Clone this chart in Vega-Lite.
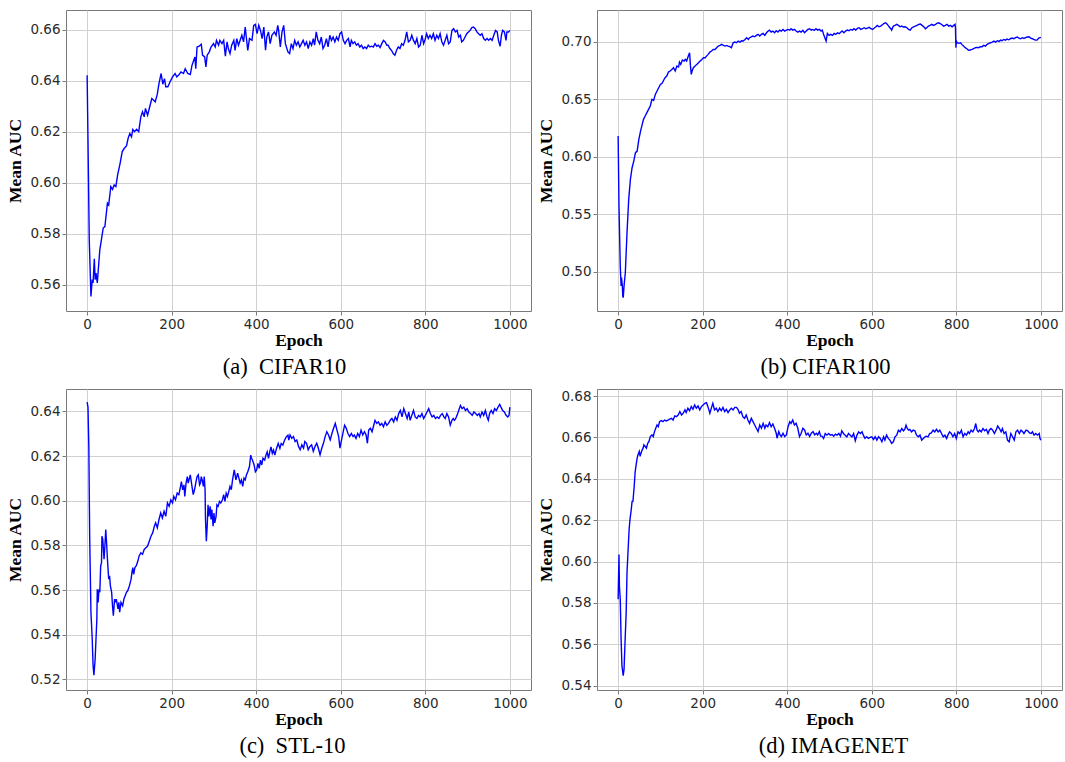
{
  "$schema": "https://vega.github.io/schema/vega-lite/v6.json",
  "background": "white",
  "padding": {"left": 6, "top": 9, "right": 0, "bottom": 0},
  "config": {
    "font": "DejaVu Sans",
    "view": {"stroke": "#7a7a7a", "strokeWidth": 1},
    "axis": {"domain": false, "grid": true, "gridColor": "#d0d0d0", "gridWidth": 1, "tickColor": "#7a7a7a", "tickSize": 4, "labelFont": "DejaVu Sans", "labelFontSize": 13.5, "labelColor": "#2a2a2a", "labelPadding": 2, "titleFont": "Liberation Serif", "titleFontWeight": "bold", "titleFontSize": 17.5, "titleColor": "#000000"},
    "axisX": {"titlePadding": 1, "format": "d"},
    "axisY": {"titlePadding": 5},
    "title": {"font": "Liberation Serif", "fontSize": 22.5, "fontWeight": "normal", "color": "#000000", "orient": "bottom", "offset": 7}
  },
  "columns": 2,
  "spacing": {"row": 78, "column": 66},
  "bounds": "flush",
  "datasets": {
    "a": [
      {"epoch":0,"auc":0.6421},{"epoch":2,"auc":0.6167},{"epoch":5,"auc":0.5776},{"epoch":9,"auc":0.5554},{"epoch":12,"auc":0.562},{"epoch":14,"auc":0.5607},{"epoch":17,"auc":0.5702},{"epoch":19,"auc":0.562},{"epoch":21,"auc":0.5646},{"epoch":24,"auc":0.5607},{"epoch":30,"auc":0.5737},{"epoch":38,"auc":0.5822},{"epoch":42,"auc":0.5828},{"epoch":48,"auc":0.592},{"epoch":51,"auc":0.5913},{"epoch":56,"auc":0.5985},{"epoch":60,"auc":0.5974},{"epoch":64,"auc":0.5991},{"epoch":68,"auc":0.5985},{"epoch":72,"auc":0.603},{"epoch":78,"auc":0.6076},{"epoch":83,"auc":0.6122},{"epoch":88,"auc":0.6135},{"epoch":93,"auc":0.6144},{"epoch":97,"auc":0.6174},{"epoch":101,"auc":0.6193},{"epoch":105,"auc":0.618},{"epoch":108,"auc":0.6209},{"epoch":112,"auc":0.62},{"epoch":117,"auc":0.6209},{"epoch":122,"auc":0.62},{"epoch":127,"auc":0.6258},{"epoch":131,"auc":0.6278},{"epoch":135,"auc":0.6258},{"epoch":138,"auc":0.6291},{"epoch":143,"auc":0.6265},{"epoch":147,"auc":0.6291},{"epoch":153,"auc":0.633},{"epoch":157,"auc":0.6324},{"epoch":161,"auc":0.6317},{"epoch":166,"auc":0.6347},{"epoch":170,"auc":0.6389},{"epoch":175,"auc":0.6428},{"epoch":179,"auc":0.6386},{"epoch":183,"auc":0.6408},{"epoch":186,"auc":0.6376},{"epoch":191,"auc":0.6376},{"epoch":196,"auc":0.6395},{"epoch":202,"auc":0.6415},{"epoch":208,"auc":0.6428},{"epoch":212,"auc":0.6415},{"epoch":216,"auc":0.6421},{"epoch":222,"auc":0.6434},{"epoch":228,"auc":0.6428},{"epoch":232,"auc":0.6447},{"epoch":238,"auc":0.6428},{"epoch":244,"auc":0.6424},{"epoch":248,"auc":0.646},{"epoch":251,"auc":0.6474},{"epoch":255,"auc":0.6493},{"epoch":257,"auc":0.6447},{"epoch":260,"auc":0.6532},{"epoch":265,"auc":0.6535},{"epoch":270,"auc":0.6543},{"epoch":273,"auc":0.65},{"epoch":278,"auc":0.6493},{"epoch":281,"auc":0.6454},{"epoch":284,"auc":0.65},{"epoch":289,"auc":0.6513},{"epoch":293,"auc":0.6532},{"epoch":299,"auc":0.6545},{"epoch":303,"auc":0.6532},{"epoch":306,"auc":0.6558},{"epoch":311,"auc":0.6539},{"epoch":314,"auc":0.6558},{"epoch":319,"auc":0.6545},{"epoch":323,"auc":0.6558},{"epoch":327,"auc":0.6496},{"epoch":331,"auc":0.6552},{"epoch":334,"auc":0.6526},{"epoch":338,"auc":0.6506},{"epoch":342,"auc":0.6539},{"epoch":347,"auc":0.6558},{"epoch":350,"auc":0.6519},{"epoch":354,"auc":0.6565},{"epoch":358,"auc":0.6539},{"epoch":362,"auc":0.6558},{"epoch":366,"auc":0.6578},{"epoch":370,"auc":0.6552},{"epoch":374,"auc":0.661},{"epoch":376,"auc":0.6578},{"epoch":380,"auc":0.6519},{"epoch":384,"auc":0.6565},{"epoch":390,"auc":0.6558},{"epoch":394,"auc":0.6617},{"epoch":398,"auc":0.6621},{"epoch":402,"auc":0.6584},{"epoch":406,"auc":0.6617},{"epoch":410,"auc":0.6597},{"epoch":414,"auc":0.6565},{"epoch":418,"auc":0.661},{"epoch":422,"auc":0.6519},{"epoch":425,"auc":0.6571},{"epoch":429,"auc":0.6591},{"epoch":433,"auc":0.6545},{"epoch":437,"auc":0.6578},{"epoch":443,"auc":0.6591},{"epoch":447,"auc":0.6578},{"epoch":451,"auc":0.6617},{"epoch":453,"auc":0.6597},{"epoch":457,"auc":0.6532},{"epoch":461,"auc":0.6591},{"epoch":465,"auc":0.6617},{"epoch":469,"auc":0.6545},{"epoch":475,"auc":0.6513},{"epoch":479,"auc":0.6506},{"epoch":483,"auc":0.6545},{"epoch":487,"auc":0.6526},{"epoch":491,"auc":0.6558},{"epoch":495,"auc":0.6539},{"epoch":499,"auc":0.6552},{"epoch":503,"auc":0.6532},{"epoch":507,"auc":0.6545},{"epoch":511,"auc":0.6558},{"epoch":515,"auc":0.6539},{"epoch":519,"auc":0.6552},{"epoch":523,"auc":0.6526},{"epoch":527,"auc":0.6552},{"epoch":531,"auc":0.6539},{"epoch":535,"auc":0.6565},{"epoch":538,"auc":0.6539},{"epoch":542,"auc":0.6591},{"epoch":546,"auc":0.6558},{"epoch":550,"auc":0.6545},{"epoch":554,"auc":0.6571},{"epoch":558,"auc":0.6526},{"epoch":562,"auc":0.6539},{"epoch":566,"auc":0.6565},{"epoch":570,"auc":0.6532},{"epoch":574,"auc":0.6578},{"epoch":578,"auc":0.6558},{"epoch":582,"auc":0.6571},{"epoch":586,"auc":0.6552},{"epoch":590,"auc":0.6571},{"epoch":594,"auc":0.6558},{"epoch":598,"auc":0.6584},{"epoch":602,"auc":0.6591},{"epoch":606,"auc":0.6558},{"epoch":610,"auc":0.6545},{"epoch":614,"auc":0.6558},{"epoch":618,"auc":0.6565},{"epoch":622,"auc":0.6532},{"epoch":625,"auc":0.6558},{"epoch":629,"auc":0.6545},{"epoch":633,"auc":0.6552},{"epoch":637,"auc":0.6539},{"epoch":641,"auc":0.6545},{"epoch":645,"auc":0.6532},{"epoch":649,"auc":0.6539},{"epoch":653,"auc":0.6526},{"epoch":657,"auc":0.6532},{"epoch":661,"auc":0.6526},{"epoch":665,"auc":0.6539},{"epoch":669,"auc":0.6532},{"epoch":673,"auc":0.6535},{"epoch":677,"auc":0.6532},{"epoch":681,"auc":0.6545},{"epoch":685,"auc":0.6535},{"epoch":689,"auc":0.6539},{"epoch":693,"auc":0.653},{"epoch":697,"auc":0.6545},{"epoch":701,"auc":0.6558},{"epoch":705,"auc":0.6552},{"epoch":709,"auc":0.6539},{"epoch":712,"auc":0.6539},{"epoch":716,"auc":0.6526},{"epoch":720,"auc":0.6519},{"epoch":724,"auc":0.6506},{"epoch":728,"auc":0.65},{"epoch":732,"auc":0.6519},{"epoch":736,"auc":0.6532},{"epoch":740,"auc":0.6526},{"epoch":744,"auc":0.6545},{"epoch":748,"auc":0.6539},{"epoch":752,"auc":0.6558},{"epoch":756,"auc":0.6591},{"epoch":760,"auc":0.6552},{"epoch":764,"auc":0.6558},{"epoch":768,"auc":0.6578},{"epoch":772,"auc":0.6558},{"epoch":776,"auc":0.6545},{"epoch":780,"auc":0.6565},{"epoch":784,"auc":0.6532},{"epoch":788,"auc":0.6539},{"epoch":792,"auc":0.6578},{"epoch":796,"auc":0.6545},{"epoch":799,"auc":0.6558},{"epoch":803,"auc":0.6584},{"epoch":807,"auc":0.6565},{"epoch":811,"auc":0.6578},{"epoch":815,"auc":0.6565},{"epoch":819,"auc":0.6584},{"epoch":823,"auc":0.6558},{"epoch":827,"auc":0.6578},{"epoch":831,"auc":0.6565},{"epoch":835,"auc":0.6584},{"epoch":839,"auc":0.6552},{"epoch":843,"auc":0.6539},{"epoch":847,"auc":0.6558},{"epoch":851,"auc":0.6578},{"epoch":855,"auc":0.6545},{"epoch":859,"auc":0.6552},{"epoch":863,"auc":0.6597},{"epoch":867,"auc":0.6604},{"epoch":871,"auc":0.6591},{"epoch":875,"auc":0.6597},{"epoch":879,"auc":0.6571},{"epoch":883,"auc":0.6578},{"epoch":886,"auc":0.6552},{"epoch":890,"auc":0.6558},{"epoch":894,"auc":0.6571},{"epoch":898,"auc":0.6584},{"epoch":902,"auc":0.6591},{"epoch":906,"auc":0.6597},{"epoch":910,"auc":0.6608},{"epoch":914,"auc":0.661},{"epoch":918,"auc":0.6604},{"epoch":922,"auc":0.6591},{"epoch":926,"auc":0.6584},{"epoch":930,"auc":0.6578},{"epoch":934,"auc":0.6584},{"epoch":938,"auc":0.6565},{"epoch":942,"auc":0.6558},{"epoch":946,"auc":0.6565},{"epoch":950,"auc":0.6558},{"epoch":954,"auc":0.6565},{"epoch":958,"auc":0.6558},{"epoch":962,"auc":0.6578},{"epoch":966,"auc":0.6597},{"epoch":970,"auc":0.6591},{"epoch":973,"auc":0.6558},{"epoch":977,"auc":0.6535},{"epoch":980,"auc":0.6578},{"epoch":983,"auc":0.6597},{"epoch":987,"auc":0.6591},{"epoch":991,"auc":0.6558},{"epoch":993,"auc":0.6591},{"epoch":997,"auc":0.6591},{"epoch":1000,"auc":0.6597}
    ],
    "b": [
      {"epoch":0,"auc":0.618},{"epoch":2,"auc":0.557},{"epoch":5,"auc":0.505},{"epoch":7,"auc":0.4875},{"epoch":8,"auc":0.4948},{"epoch":10,"auc":0.4875},{"epoch":11,"auc":0.4788},{"epoch":12,"auc":0.4774},{"epoch":14,"auc":0.4875},{"epoch":17,"auc":0.4991},{"epoch":21,"auc":0.5339},{"epoch":25,"auc":0.5629},{"epoch":29,"auc":0.5803},{"epoch":33,"auc":0.5904},{"epoch":37,"auc":0.5962},{"epoch":41,"auc":0.6035},{"epoch":45,"auc":0.6049},{"epoch":49,"auc":0.6151},{"epoch":53,"auc":0.6223},{"epoch":57,"auc":0.6281},{"epoch":60,"auc":0.6325},{"epoch":64,"auc":0.6354},{"epoch":68,"auc":0.6383},{"epoch":72,"auc":0.6412},{"epoch":76,"auc":0.6441},{"epoch":80,"auc":0.6499},{"epoch":84,"auc":0.649},{"epoch":88,"auc":0.6542},{"epoch":92,"auc":0.6571},{"epoch":96,"auc":0.66},{"epoch":100,"auc":0.6629},{"epoch":104,"auc":0.6638},{"epoch":108,"auc":0.6667},{"epoch":111,"auc":0.6687},{"epoch":115,"auc":0.6701},{"epoch":119,"auc":0.6736},{"epoch":123,"auc":0.6745},{"epoch":127,"auc":0.6759},{"epoch":131,"auc":0.6774},{"epoch":135,"auc":0.6745},{"epoch":139,"auc":0.6788},{"epoch":143,"auc":0.678},{"epoch":145,"auc":0.6823},{"epoch":148,"auc":0.6803},{"epoch":152,"auc":0.6841},{"epoch":156,"auc":0.6832},{"epoch":159,"auc":0.6846},{"epoch":162,"auc":0.6832},{"epoch":166,"auc":0.6875},{"epoch":169,"auc":0.6904},{"epoch":171,"auc":0.6794},{"epoch":173,"auc":0.6716},{"epoch":175,"auc":0.6745},{"epoch":178,"auc":0.6774},{"epoch":182,"auc":0.6788},{"epoch":186,"auc":0.6803},{"epoch":190,"auc":0.6817},{"epoch":194,"auc":0.6832},{"epoch":198,"auc":0.6846},{"epoch":202,"auc":0.6861},{"epoch":206,"auc":0.6861},{"epoch":209,"auc":0.6875},{"epoch":213,"auc":0.689},{"epoch":217,"auc":0.691},{"epoch":221,"auc":0.6919},{"epoch":225,"auc":0.6933},{"epoch":229,"auc":0.6933},{"epoch":233,"auc":0.6948},{"epoch":237,"auc":0.6962},{"epoch":241,"auc":0.6968},{"epoch":245,"auc":0.6977},{"epoch":249,"auc":0.6968},{"epoch":253,"auc":0.6962},{"epoch":257,"auc":0.6968},{"epoch":260,"auc":0.6962},{"epoch":264,"auc":0.6957},{"epoch":268,"auc":0.6948},{"epoch":272,"auc":0.6991},{"epoch":276,"auc":0.6997},{"epoch":280,"auc":0.6991},{"epoch":284,"auc":0.7006},{"epoch":288,"auc":0.6997},{"epoch":292,"auc":0.7009},{"epoch":296,"auc":0.7006},{"epoch":300,"auc":0.702},{"epoch":304,"auc":0.7035},{"epoch":308,"auc":0.702},{"epoch":311,"auc":0.7035},{"epoch":315,"auc":0.7043},{"epoch":319,"auc":0.7049},{"epoch":323,"auc":0.7043},{"epoch":327,"auc":0.7055},{"epoch":331,"auc":0.7064},{"epoch":335,"auc":0.7049},{"epoch":339,"auc":0.7064},{"epoch":343,"auc":0.7072},{"epoch":347,"auc":0.7055},{"epoch":351,"auc":0.7078},{"epoch":355,"auc":0.7093},{"epoch":358,"auc":0.7101},{"epoch":362,"auc":0.7084},{"epoch":366,"auc":0.7093},{"epoch":370,"auc":0.7078},{"epoch":374,"auc":0.7096},{"epoch":378,"auc":0.7084},{"epoch":382,"auc":0.7101},{"epoch":386,"auc":0.7093},{"epoch":390,"auc":0.7107},{"epoch":394,"auc":0.7093},{"epoch":398,"auc":0.7101},{"epoch":402,"auc":0.7107},{"epoch":406,"auc":0.7101},{"epoch":409,"auc":0.7113},{"epoch":413,"auc":0.7101},{"epoch":417,"auc":0.7107},{"epoch":421,"auc":0.7093},{"epoch":425,"auc":0.7084},{"epoch":429,"auc":0.7093},{"epoch":433,"auc":0.7084},{"epoch":437,"auc":0.7099},{"epoch":441,"auc":0.7078},{"epoch":445,"auc":0.7093},{"epoch":449,"auc":0.7107},{"epoch":453,"auc":0.7113},{"epoch":457,"auc":0.7101},{"epoch":460,"auc":0.7107},{"epoch":464,"auc":0.7099},{"epoch":468,"auc":0.7113},{"epoch":472,"auc":0.7101},{"epoch":476,"auc":0.7107},{"epoch":480,"auc":0.7093},{"epoch":483,"auc":0.7101},{"epoch":486,"auc":0.7064},{"epoch":489,"auc":0.7035},{"epoch":492,"auc":0.7006},{"epoch":495,"auc":0.7072},{"epoch":499,"auc":0.7055},{"epoch":503,"auc":0.7064},{"epoch":507,"auc":0.7055},{"epoch":511,"auc":0.7072},{"epoch":515,"auc":0.7064},{"epoch":519,"auc":0.7078},{"epoch":523,"auc":0.707},{"epoch":527,"auc":0.7084},{"epoch":530,"auc":0.7093},{"epoch":534,"auc":0.7078},{"epoch":538,"auc":0.7093},{"epoch":542,"auc":0.7101},{"epoch":546,"auc":0.7096},{"epoch":550,"auc":0.7107},{"epoch":554,"auc":0.7101},{"epoch":558,"auc":0.7113},{"epoch":562,"auc":0.7101},{"epoch":566,"auc":0.7116},{"epoch":570,"auc":0.7122},{"epoch":574,"auc":0.7107},{"epoch":578,"auc":0.7113},{"epoch":582,"auc":0.7122},{"epoch":586,"auc":0.7113},{"epoch":590,"auc":0.7119},{"epoch":594,"auc":0.7125},{"epoch":598,"auc":0.7113},{"epoch":602,"auc":0.7107},{"epoch":606,"auc":0.7119},{"epoch":610,"auc":0.713},{"epoch":613,"auc":0.7142},{"epoch":617,"auc":0.713},{"epoch":621,"auc":0.7136},{"epoch":625,"auc":0.7148},{"epoch":629,"auc":0.7159},{"epoch":633,"auc":0.7165},{"epoch":637,"auc":0.7151},{"epoch":641,"auc":0.713},{"epoch":645,"auc":0.7113},{"epoch":647,"auc":0.7101},{"epoch":651,"auc":0.7136},{"epoch":655,"auc":0.7142},{"epoch":659,"auc":0.7151},{"epoch":663,"auc":0.7142},{"epoch":667,"auc":0.713},{"epoch":671,"auc":0.7136},{"epoch":675,"auc":0.7128},{"epoch":679,"auc":0.713},{"epoch":683,"auc":0.7122},{"epoch":687,"auc":0.7107},{"epoch":691,"auc":0.7101},{"epoch":695,"auc":0.7122},{"epoch":699,"auc":0.713},{"epoch":703,"auc":0.7136},{"epoch":707,"auc":0.7142},{"epoch":711,"auc":0.7151},{"epoch":715,"auc":0.7154},{"epoch":719,"auc":0.7142},{"epoch":723,"auc":0.713},{"epoch":727,"auc":0.7113},{"epoch":730,"auc":0.7122},{"epoch":734,"auc":0.7136},{"epoch":738,"auc":0.7142},{"epoch":742,"auc":0.7151},{"epoch":746,"auc":0.7142},{"epoch":750,"auc":0.7148},{"epoch":754,"auc":0.7159},{"epoch":758,"auc":0.7165},{"epoch":762,"auc":0.7157},{"epoch":766,"auc":0.7148},{"epoch":770,"auc":0.7136},{"epoch":774,"auc":0.7142},{"epoch":778,"auc":0.7151},{"epoch":782,"auc":0.7136},{"epoch":786,"auc":0.7142},{"epoch":790,"auc":0.713},{"epoch":794,"auc":0.7142},{"epoch":797,"auc":0.7151},{"epoch":798,"auc":0.7122},{"epoch":799,"auc":0.6948},{"epoch":800,"auc":0.7006},{"epoch":802,"auc":0.6991},{"epoch":806,"auc":0.6986},{"epoch":810,"auc":0.6991},{"epoch":813,"auc":0.6977},{"epoch":817,"auc":0.6962},{"epoch":821,"auc":0.6948},{"epoch":825,"auc":0.6939},{"epoch":829,"auc":0.6925},{"epoch":833,"auc":0.6928},{"epoch":837,"auc":0.6933},{"epoch":841,"auc":0.6939},{"epoch":845,"auc":0.6948},{"epoch":849,"auc":0.6951},{"epoch":853,"auc":0.6948},{"epoch":857,"auc":0.6957},{"epoch":861,"auc":0.6957},{"epoch":865,"auc":0.6968},{"epoch":869,"auc":0.6962},{"epoch":873,"auc":0.6977},{"epoch":877,"auc":0.6986},{"epoch":881,"auc":0.6991},{"epoch":885,"auc":0.6997},{"epoch":889,"auc":0.7006},{"epoch":893,"auc":0.6997},{"epoch":897,"auc":0.7009},{"epoch":901,"auc":0.7003},{"epoch":905,"auc":0.7014},{"epoch":908,"auc":0.7009},{"epoch":912,"auc":0.702},{"epoch":916,"auc":0.7014},{"epoch":920,"auc":0.7023},{"epoch":924,"auc":0.7017},{"epoch":928,"auc":0.7026},{"epoch":932,"auc":0.7032},{"epoch":936,"auc":0.7026},{"epoch":940,"auc":0.7035},{"epoch":944,"auc":0.7041},{"epoch":948,"auc":0.7032},{"epoch":952,"auc":0.7026},{"epoch":956,"auc":0.7035},{"epoch":960,"auc":0.7029},{"epoch":964,"auc":0.7035},{"epoch":968,"auc":0.7041},{"epoch":972,"auc":0.7043},{"epoch":976,"auc":0.7032},{"epoch":980,"auc":0.7026},{"epoch":983,"auc":0.702},{"epoch":987,"auc":0.7014},{"epoch":991,"auc":0.7014},{"epoch":995,"auc":0.7032},{"epoch":1000,"auc":0.7038}
    ],
    "c": [
      {"epoch":0,"auc":0.6441},{"epoch":2,"auc":0.6419},{"epoch":4,"auc":0.6241},{"epoch":6,"auc":0.5841},{"epoch":9,"auc":0.5501},{"epoch":12,"auc":0.5382},{"epoch":14,"auc":0.5264},{"epoch":16,"auc":0.5219},{"epoch":19,"auc":0.5293},{"epoch":21,"auc":0.5382},{"epoch":23,"auc":0.5471},{"epoch":24,"auc":0.5604},{"epoch":26,"auc":0.5545},{"epoch":28,"auc":0.5604},{"epoch":30,"auc":0.559},{"epoch":32,"auc":0.5708},{"epoch":34,"auc":0.5723},{"epoch":35,"auc":0.5841},{"epoch":37,"auc":0.5827},{"epoch":40,"auc":0.5738},{"epoch":42,"auc":0.5797},{"epoch":44,"auc":0.5871},{"epoch":46,"auc":0.5812},{"epoch":48,"auc":0.5738},{"epoch":51,"auc":0.5649},{"epoch":53,"auc":0.5664},{"epoch":55,"auc":0.5619},{"epoch":58,"auc":0.559},{"epoch":60,"auc":0.553},{"epoch":62,"auc":0.5486},{"epoch":65,"auc":0.556},{"epoch":67,"auc":0.5545},{"epoch":69,"auc":0.556},{"epoch":73,"auc":0.5516},{"epoch":75,"auc":0.5545},{"epoch":77,"auc":0.5501},{"epoch":80,"auc":0.5545},{"epoch":84,"auc":0.553},{"epoch":87,"auc":0.556},{"epoch":90,"auc":0.5575},{"epoch":93,"auc":0.559},{"epoch":96,"auc":0.5597},{"epoch":100,"auc":0.5619},{"epoch":104,"auc":0.5649},{"epoch":106,"auc":0.5679},{"epoch":108,"auc":0.5701},{"epoch":110,"auc":0.5671},{"epoch":113,"auc":0.5701},{"epoch":116,"auc":0.5708},{"epoch":120,"auc":0.573},{"epoch":123,"auc":0.5753},{"epoch":127,"auc":0.5767},{"epoch":131,"auc":0.576},{"epoch":135,"auc":0.5782},{"epoch":139,"auc":0.579},{"epoch":143,"auc":0.5797},{"epoch":147,"auc":0.5819},{"epoch":151,"auc":0.5841},{"epoch":155,"auc":0.5856},{"epoch":159,"auc":0.5886},{"epoch":162,"auc":0.5901},{"epoch":166,"auc":0.5879},{"epoch":170,"auc":0.5916},{"epoch":174,"auc":0.5945},{"epoch":178,"auc":0.5923},{"epoch":182,"auc":0.5953},{"epoch":186,"auc":0.593},{"epoch":190,"auc":0.599},{"epoch":194,"auc":0.5975},{"epoch":198,"auc":0.6004},{"epoch":202,"auc":0.599},{"epoch":205,"auc":0.6019},{"epoch":209,"auc":0.6004},{"epoch":213,"auc":0.6034},{"epoch":217,"auc":0.6027},{"epoch":221,"auc":0.6064},{"epoch":223,"auc":0.6086},{"epoch":226,"auc":0.6049},{"epoch":229,"auc":0.6071},{"epoch":231,"auc":0.6019},{"epoch":234,"auc":0.6079},{"epoch":237,"auc":0.6108},{"epoch":239,"auc":0.6079},{"epoch":241,"auc":0.6093},{"epoch":244,"auc":0.6116},{"epoch":248,"auc":0.6064},{"epoch":251,"auc":0.6027},{"epoch":254,"auc":0.6049},{"epoch":257,"auc":0.6079},{"epoch":260,"auc":0.6108},{"epoch":263,"auc":0.6116},{"epoch":266,"auc":0.6071},{"epoch":268,"auc":0.6079},{"epoch":270,"auc":0.6108},{"epoch":273,"auc":0.6086},{"epoch":275,"auc":0.6064},{"epoch":277,"auc":0.6108},{"epoch":279,"auc":0.6049},{"epoch":280,"auc":0.5916},{"epoch":282,"auc":0.5819},{"epoch":284,"auc":0.5886},{"epoch":286,"auc":0.5982},{"epoch":288,"auc":0.593},{"epoch":291,"auc":0.5975},{"epoch":293,"auc":0.5916},{"epoch":295,"auc":0.596},{"epoch":298,"auc":0.5886},{"epoch":300,"auc":0.5945},{"epoch":302,"auc":0.5901},{"epoch":305,"auc":0.593},{"epoch":307,"auc":0.5982},{"epoch":310,"auc":0.5975},{"epoch":313,"auc":0.5997},{"epoch":316,"auc":0.599},{"epoch":320,"auc":0.6004},{"epoch":323,"auc":0.6027},{"epoch":326,"auc":0.5997},{"epoch":329,"auc":0.6034},{"epoch":332,"auc":0.6019},{"epoch":335,"auc":0.6041},{"epoch":338,"auc":0.6064},{"epoch":341,"auc":0.6049},{"epoch":344,"auc":0.6093},{"epoch":348,"auc":0.6138},{"epoch":350,"auc":0.6116},{"epoch":352,"auc":0.6093},{"epoch":356,"auc":0.6123},{"epoch":359,"auc":0.6101},{"epoch":362,"auc":0.6079},{"epoch":365,"auc":0.6093},{"epoch":368,"auc":0.6064},{"epoch":371,"auc":0.6101},{"epoch":374,"auc":0.6093},{"epoch":377,"auc":0.6116},{"epoch":380,"auc":0.613},{"epoch":384,"auc":0.6153},{"epoch":387,"auc":0.6204},{"epoch":389,"auc":0.619},{"epoch":391,"auc":0.6182},{"epoch":395,"auc":0.616},{"epoch":398,"auc":0.613},{"epoch":401,"auc":0.6138},{"epoch":404,"auc":0.6167},{"epoch":407,"auc":0.6145},{"epoch":410,"auc":0.6182},{"epoch":413,"auc":0.616},{"epoch":416,"auc":0.619},{"epoch":420,"auc":0.6182},{"epoch":423,"auc":0.6204},{"epoch":426,"auc":0.6219},{"epoch":429,"auc":0.619},{"epoch":432,"auc":0.6219},{"epoch":435,"auc":0.6241},{"epoch":438,"auc":0.6212},{"epoch":441,"auc":0.6227},{"epoch":444,"auc":0.6204},{"epoch":448,"auc":0.6234},{"epoch":452,"auc":0.6256},{"epoch":456,"auc":0.6234},{"epoch":459,"auc":0.6256},{"epoch":463,"auc":0.6249},{"epoch":467,"auc":0.6271},{"epoch":471,"auc":0.6286},{"epoch":475,"auc":0.6293},{"epoch":477,"auc":0.6271},{"epoch":480,"auc":0.6294},{"epoch":484,"auc":0.6279},{"epoch":488,"auc":0.6287},{"epoch":492,"auc":0.6265},{"epoch":496,"auc":0.6272},{"epoch":500,"auc":0.6243},{"epoch":504,"auc":0.6228},{"epoch":508,"auc":0.625},{"epoch":512,"auc":0.6235},{"epoch":515,"auc":0.6265},{"epoch":519,"auc":0.6257},{"epoch":523,"auc":0.6228},{"epoch":527,"auc":0.6243},{"epoch":531,"auc":0.625},{"epoch":535,"auc":0.6221},{"epoch":539,"auc":0.6243},{"epoch":543,"auc":0.6257},{"epoch":547,"auc":0.6235},{"epoch":551,"auc":0.6206},{"epoch":555,"auc":0.6235},{"epoch":559,"auc":0.6257},{"epoch":563,"auc":0.6287},{"epoch":567,"auc":0.6309},{"epoch":571,"auc":0.6294},{"epoch":575,"auc":0.6272},{"epoch":579,"auc":0.6301},{"epoch":583,"auc":0.6324},{"epoch":587,"auc":0.6346},{"epoch":591,"auc":0.6316},{"epoch":595,"auc":0.6287},{"epoch":598,"auc":0.6235},{"epoch":601,"auc":0.6265},{"epoch":605,"auc":0.6301},{"epoch":609,"auc":0.6338},{"epoch":613,"auc":0.6324},{"epoch":617,"auc":0.6301},{"epoch":621,"auc":0.6287},{"epoch":625,"auc":0.6301},{"epoch":629,"auc":0.6287},{"epoch":632,"auc":0.6294},{"epoch":636,"auc":0.6279},{"epoch":640,"auc":0.6301},{"epoch":644,"auc":0.6287},{"epoch":648,"auc":0.6316},{"epoch":652,"auc":0.6294},{"epoch":656,"auc":0.6309},{"epoch":660,"auc":0.6294},{"epoch":663,"auc":0.6257},{"epoch":666,"auc":0.6316},{"epoch":670,"auc":0.6324},{"epoch":674,"auc":0.6309},{"epoch":678,"auc":0.6338},{"epoch":681,"auc":0.636},{"epoch":685,"auc":0.6346},{"epoch":689,"auc":0.6353},{"epoch":693,"auc":0.6338},{"epoch":697,"auc":0.6346},{"epoch":701,"auc":0.6331},{"epoch":705,"auc":0.6353},{"epoch":709,"auc":0.6338},{"epoch":713,"auc":0.6346},{"epoch":717,"auc":0.636},{"epoch":721,"auc":0.6368},{"epoch":725,"auc":0.6353},{"epoch":729,"auc":0.6375},{"epoch":733,"auc":0.636},{"epoch":737,"auc":0.639},{"epoch":741,"auc":0.6404},{"epoch":745,"auc":0.6375},{"epoch":749,"auc":0.6412},{"epoch":753,"auc":0.639},{"epoch":757,"auc":0.6368},{"epoch":761,"auc":0.6397},{"epoch":764,"auc":0.636},{"epoch":768,"auc":0.6382},{"epoch":772,"auc":0.6404},{"epoch":776,"auc":0.6375},{"epoch":780,"auc":0.6368},{"epoch":784,"auc":0.6382},{"epoch":788,"auc":0.6375},{"epoch":792,"auc":0.639},{"epoch":796,"auc":0.6368},{"epoch":800,"auc":0.6382},{"epoch":804,"auc":0.6397},{"epoch":808,"auc":0.6412},{"epoch":812,"auc":0.639},{"epoch":816,"auc":0.6375},{"epoch":820,"auc":0.6382},{"epoch":824,"auc":0.6368},{"epoch":828,"auc":0.6375},{"epoch":832,"auc":0.6368},{"epoch":836,"auc":0.6382},{"epoch":840,"auc":0.639},{"epoch":844,"auc":0.6375},{"epoch":847,"auc":0.6368},{"epoch":851,"auc":0.639},{"epoch":855,"auc":0.6375},{"epoch":859,"auc":0.6338},{"epoch":863,"auc":0.636},{"epoch":866,"auc":0.6368},{"epoch":869,"auc":0.636},{"epoch":872,"auc":0.6368},{"epoch":875,"auc":0.6382},{"epoch":879,"auc":0.6404},{"epoch":883,"auc":0.6426},{"epoch":887,"auc":0.6412},{"epoch":891,"auc":0.6419},{"epoch":895,"auc":0.6404},{"epoch":899,"auc":0.6412},{"epoch":903,"auc":0.6397},{"epoch":907,"auc":0.639},{"epoch":911,"auc":0.6382},{"epoch":915,"auc":0.6397},{"epoch":919,"auc":0.639},{"epoch":923,"auc":0.6382},{"epoch":927,"auc":0.639},{"epoch":930,"auc":0.6375},{"epoch":934,"auc":0.6397},{"epoch":938,"auc":0.6382},{"epoch":942,"auc":0.6404},{"epoch":946,"auc":0.6375},{"epoch":949,"auc":0.636},{"epoch":952,"auc":0.639},{"epoch":956,"auc":0.6404},{"epoch":960,"auc":0.639},{"epoch":964,"auc":0.6412},{"epoch":968,"auc":0.6404},{"epoch":972,"auc":0.6419},{"epoch":976,"auc":0.6431},{"epoch":979,"auc":0.6419},{"epoch":983,"auc":0.6404},{"epoch":987,"auc":0.6397},{"epoch":991,"auc":0.6382},{"epoch":995,"auc":0.6375},{"epoch":998,"auc":0.6382},{"epoch":1000,"auc":0.6419}
    ],
    "d": [
      {"epoch":0,"auc":0.5818},{"epoch":2,"auc":0.6034},{"epoch":3,"auc":0.5882},{"epoch":5,"auc":0.5818},{"epoch":7,"auc":0.5625},{"epoch":9,"auc":0.5496},{"epoch":12,"auc":0.5448},{"epoch":14,"auc":0.548},{"epoch":16,"auc":0.5593},{"epoch":19,"auc":0.5753},{"epoch":21,"auc":0.5946},{"epoch":24,"auc":0.6074},{"epoch":26,"auc":0.6155},{"epoch":28,"auc":0.6203},{"epoch":31,"auc":0.6251},{"epoch":33,"auc":0.6291},{"epoch":35,"auc":0.6291},{"epoch":38,"auc":0.6363},{"epoch":40,"auc":0.6428},{"epoch":42,"auc":0.646},{"epoch":45,"auc":0.65},{"epoch":47,"auc":0.6516},{"epoch":50,"auc":0.6532},{"epoch":52,"auc":0.6508},{"epoch":54,"auc":0.6524},{"epoch":57,"auc":0.654},{"epoch":59,"auc":0.6548},{"epoch":61,"auc":0.6564},{"epoch":64,"auc":0.6556},{"epoch":67,"auc":0.6548},{"epoch":70,"auc":0.6572},{"epoch":73,"auc":0.658},{"epoch":76,"auc":0.6604},{"epoch":80,"auc":0.6612},{"epoch":83,"auc":0.6604},{"epoch":86,"auc":0.6628},{"epoch":89,"auc":0.6644},{"epoch":92,"auc":0.666},{"epoch":95,"auc":0.6652},{"epoch":98,"auc":0.6676},{"epoch":102,"auc":0.6681},{"epoch":106,"auc":0.6676},{"epoch":110,"auc":0.6684},{"epoch":114,"auc":0.668},{"epoch":118,"auc":0.6684},{"epoch":122,"auc":0.6688},{"epoch":126,"auc":0.6692},{"epoch":130,"auc":0.6684},{"epoch":134,"auc":0.6704},{"epoch":138,"auc":0.67},{"epoch":142,"auc":0.6708},{"epoch":146,"auc":0.6725},{"epoch":150,"auc":0.6708},{"epoch":154,"auc":0.6717},{"epoch":158,"auc":0.6733},{"epoch":161,"auc":0.672},{"epoch":165,"auc":0.6741},{"epoch":169,"auc":0.6729},{"epoch":173,"auc":0.6749},{"epoch":177,"auc":0.6736},{"epoch":181,"auc":0.6757},{"epoch":185,"auc":0.6741},{"epoch":189,"auc":0.6752},{"epoch":193,"auc":0.6733},{"epoch":197,"auc":0.6749},{"epoch":201,"auc":0.6757},{"epoch":205,"auc":0.6765},{"epoch":209,"auc":0.6768},{"epoch":213,"auc":0.6745},{"epoch":217,"auc":0.6717},{"epoch":221,"auc":0.6745},{"epoch":224,"auc":0.6765},{"epoch":228,"auc":0.6733},{"epoch":232,"auc":0.6741},{"epoch":236,"auc":0.6725},{"epoch":240,"auc":0.6741},{"epoch":244,"auc":0.6729},{"epoch":248,"auc":0.6745},{"epoch":252,"auc":0.6725},{"epoch":256,"auc":0.6736},{"epoch":260,"auc":0.672},{"epoch":264,"auc":0.6733},{"epoch":268,"auc":0.6741},{"epoch":272,"auc":0.6733},{"epoch":276,"auc":0.6745},{"epoch":280,"auc":0.6745},{"epoch":284,"auc":0.6733},{"epoch":287,"auc":0.6717},{"epoch":291,"auc":0.6725},{"epoch":295,"auc":0.67},{"epoch":299,"auc":0.6692},{"epoch":303,"auc":0.6708},{"epoch":307,"auc":0.6684},{"epoch":311,"auc":0.6668},{"epoch":315,"auc":0.6692},{"epoch":319,"auc":0.6676},{"epoch":323,"auc":0.666},{"epoch":327,"auc":0.6644},{"epoch":331,"auc":0.6628},{"epoch":335,"auc":0.666},{"epoch":339,"auc":0.6644},{"epoch":343,"auc":0.6668},{"epoch":347,"auc":0.6644},{"epoch":350,"auc":0.666},{"epoch":354,"auc":0.6652},{"epoch":358,"auc":0.6672},{"epoch":362,"auc":0.6652},{"epoch":366,"auc":0.6665},{"epoch":370,"auc":0.6644},{"epoch":374,"auc":0.662},{"epoch":376,"auc":0.6596},{"epoch":380,"auc":0.6628},{"epoch":383,"auc":0.6612},{"epoch":386,"auc":0.6604},{"epoch":390,"auc":0.662},{"epoch":394,"auc":0.6604},{"epoch":398,"auc":0.6612},{"epoch":402,"auc":0.6652},{"epoch":406,"auc":0.6676},{"epoch":409,"auc":0.6668},{"epoch":413,"auc":0.6684},{"epoch":417,"auc":0.666},{"epoch":421,"auc":0.6668},{"epoch":425,"auc":0.6644},{"epoch":429,"auc":0.6604},{"epoch":433,"auc":0.662},{"epoch":437,"auc":0.6644},{"epoch":441,"auc":0.6636},{"epoch":445,"auc":0.6612},{"epoch":449,"auc":0.662},{"epoch":453,"auc":0.6604},{"epoch":457,"auc":0.662},{"epoch":461,"auc":0.6628},{"epoch":465,"auc":0.6612},{"epoch":469,"auc":0.662},{"epoch":472,"auc":0.6612},{"epoch":476,"auc":0.6628},{"epoch":479,"auc":0.6606},{"epoch":482,"auc":0.6606},{"epoch":486,"auc":0.6595},{"epoch":490,"auc":0.6619},{"epoch":494,"auc":0.6611},{"epoch":498,"auc":0.6619},{"epoch":502,"auc":0.6611},{"epoch":506,"auc":0.6614},{"epoch":510,"auc":0.6606},{"epoch":514,"auc":0.6616},{"epoch":518,"auc":0.6611},{"epoch":522,"auc":0.6619},{"epoch":526,"auc":0.6606},{"epoch":529,"auc":0.6632},{"epoch":533,"auc":0.6619},{"epoch":537,"auc":0.6611},{"epoch":541,"auc":0.6603},{"epoch":545,"auc":0.6619},{"epoch":549,"auc":0.6611},{"epoch":553,"auc":0.6603},{"epoch":557,"auc":0.6619},{"epoch":561,"auc":0.6584},{"epoch":565,"auc":0.6611},{"epoch":569,"auc":0.6627},{"epoch":573,"auc":0.6619},{"epoch":577,"auc":0.6627},{"epoch":580,"auc":0.6611},{"epoch":584,"auc":0.6595},{"epoch":588,"auc":0.6603},{"epoch":592,"auc":0.6595},{"epoch":596,"auc":0.66},{"epoch":600,"auc":0.6603},{"epoch":604,"auc":0.659},{"epoch":608,"auc":0.6603},{"epoch":612,"auc":0.6587},{"epoch":616,"auc":0.6603},{"epoch":620,"auc":0.6595},{"epoch":624,"auc":0.6579},{"epoch":628,"auc":0.6603},{"epoch":631,"auc":0.6587},{"epoch":635,"auc":0.6611},{"epoch":639,"auc":0.6595},{"epoch":643,"auc":0.6587},{"epoch":647,"auc":0.6571},{"epoch":651,"auc":0.6579},{"epoch":655,"auc":0.6603},{"epoch":659,"auc":0.6611},{"epoch":663,"auc":0.6635},{"epoch":667,"auc":0.6627},{"epoch":671,"auc":0.6643},{"epoch":675,"auc":0.6632},{"epoch":678,"auc":0.6639},{"epoch":681,"auc":0.6659},{"epoch":684,"auc":0.6643},{"epoch":687,"auc":0.6635},{"epoch":690,"auc":0.6639},{"epoch":694,"auc":0.6627},{"epoch":698,"auc":0.6635},{"epoch":702,"auc":0.6632},{"epoch":706,"auc":0.6611},{"epoch":710,"auc":0.6603},{"epoch":714,"auc":0.6611},{"epoch":718,"auc":0.6587},{"epoch":722,"auc":0.6595},{"epoch":726,"auc":0.6603},{"epoch":729,"auc":0.6606},{"epoch":733,"auc":0.6603},{"epoch":737,"auc":0.6619},{"epoch":741,"auc":0.6622},{"epoch":745,"auc":0.6635},{"epoch":749,"auc":0.6627},{"epoch":753,"auc":0.6639},{"epoch":757,"auc":0.6627},{"epoch":761,"auc":0.6635},{"epoch":765,"auc":0.6619},{"epoch":769,"auc":0.6603},{"epoch":773,"auc":0.6611},{"epoch":777,"auc":0.6595},{"epoch":780,"auc":0.6611},{"epoch":784,"auc":0.6627},{"epoch":788,"auc":0.6619},{"epoch":792,"auc":0.6603},{"epoch":796,"auc":0.6619},{"epoch":800,"auc":0.6595},{"epoch":804,"auc":0.6627},{"epoch":808,"auc":0.6619},{"epoch":812,"auc":0.6635},{"epoch":816,"auc":0.6603},{"epoch":820,"auc":0.6619},{"epoch":824,"auc":0.6611},{"epoch":828,"auc":0.6627},{"epoch":831,"auc":0.6619},{"epoch":835,"auc":0.6635},{"epoch":839,"auc":0.6627},{"epoch":843,"auc":0.6643},{"epoch":846,"auc":0.6667},{"epoch":849,"auc":0.6635},{"epoch":852,"auc":0.6627},{"epoch":855,"auc":0.6635},{"epoch":859,"auc":0.6627},{"epoch":863,"auc":0.6643},{"epoch":867,"auc":0.6632},{"epoch":871,"auc":0.6639},{"epoch":875,"auc":0.6619},{"epoch":878,"auc":0.6635},{"epoch":882,"auc":0.6643},{"epoch":886,"auc":0.6635},{"epoch":890,"auc":0.6619},{"epoch":894,"auc":0.6635},{"epoch":898,"auc":0.6655},{"epoch":902,"auc":0.6643},{"epoch":906,"auc":0.6627},{"epoch":909,"auc":0.6643},{"epoch":913,"auc":0.6619},{"epoch":917,"auc":0.6627},{"epoch":921,"auc":0.6587},{"epoch":925,"auc":0.6579},{"epoch":929,"auc":0.6619},{"epoch":933,"auc":0.6603},{"epoch":937,"auc":0.6587},{"epoch":941,"auc":0.6627},{"epoch":945,"auc":0.6635},{"epoch":949,"auc":0.6619},{"epoch":953,"auc":0.6635},{"epoch":957,"auc":0.6627},{"epoch":960,"auc":0.6619},{"epoch":965,"auc":0.6635},{"epoch":969,"auc":0.6632},{"epoch":973,"auc":0.6622},{"epoch":977,"auc":0.6619},{"epoch":980,"auc":0.6627},{"epoch":984,"auc":0.6611},{"epoch":988,"auc":0.6619},{"epoch":992,"auc":0.6611},{"epoch":996,"auc":0.6619},{"epoch":998,"auc":0.6595},{"epoch":1000,"auc":0.6587}
    ]
  },
  "concat": [
    {
      "data": {"name": "a"},
      "width": 465, "height": 301,
      "title": {"text": "(a)\u00a0\u00a0CIFAR10", "dx": -14},
      "mark": {"type": "line", "color": "#0000ff", "strokeWidth": 1.4, "clip": true},
      "encoding": {
        "x": {"field": "epoch", "type": "quantitative", "scale": {"domain": [-50, 1050], "nice": false, "zero": false}, "axis": {"values": [0, 200, 400, 600, 800, 1000], "title": "Epoch"}},
        "y": {"field": "auc", "type": "quantitative", "scale": {"domain": [0.5497, 0.6677], "nice": false, "zero": false}, "axis": {"values": [0.56, 0.58, 0.6, 0.62, 0.64, 0.66], "format": ".2f", "title": "Mean AUC"}}
      }
    },
    {
      "data": {"name": "b"},
      "width": 465, "height": 301,
      "title": {"text": "(b) CIFAR100", "dx": -4},
      "mark": {"type": "line", "color": "#0000ff", "strokeWidth": 1.4, "clip": true},
      "encoding": {
        "x": {"field": "epoch", "type": "quantitative", "scale": {"domain": [-50, 1050], "nice": false, "zero": false}, "axis": {"values": [0, 200, 400, 600, 800, 1000], "title": "Epoch"}},
        "y": {"field": "auc", "type": "quantitative", "scale": {"domain": [0.4658, 0.7276], "nice": false, "zero": false}, "axis": {"values": [0.5, 0.55, 0.6, 0.65, 0.7], "format": ".2f", "title": "Mean AUC"}}
      }
    },
    {
      "data": {"name": "c"},
      "width": 465, "height": 301,
      "title": {"text": "(c)\u00a0\u00a0STL-10", "dx": -6},
      "mark": {"type": "line", "color": "#0000ff", "strokeWidth": 1.4, "clip": true},
      "encoding": {
        "x": {"field": "epoch", "type": "quantitative", "scale": {"domain": [-50, 1050], "nice": false, "zero": false}, "axis": {"values": [0, 200, 400, 600, 800, 1000], "title": "Epoch"}},
        "y": {"field": "auc", "type": "quantitative", "scale": {"domain": [0.5153, 0.65], "nice": false, "zero": false}, "axis": {"values": [0.52, 0.54, 0.56, 0.58, 0.6, 0.62, 0.64], "format": ".2f", "title": "Mean AUC"}}
      }
    },
    {
      "data": {"name": "d"},
      "width": 465, "height": 301,
      "title": {"text": "(d) IMAGENET", "dx": 4},
      "mark": {"type": "line", "color": "#0000ff", "strokeWidth": 1.4, "clip": true},
      "encoding": {
        "x": {"field": "epoch", "type": "quantitative", "scale": {"domain": [-50, 1050], "nice": false, "zero": false}, "axis": {"values": [0, 200, 400, 600, 800, 1000], "title": "Epoch"}},
        "y": {"field": "auc", "type": "quantitative", "scale": {"domain": [0.5379, 0.6834], "nice": false, "zero": false}, "axis": {"values": [0.54, 0.56, 0.58, 0.6, 0.62, 0.64, 0.66, 0.68], "format": ".2f", "title": "Mean AUC"}}
      }
    }
  ]
}
